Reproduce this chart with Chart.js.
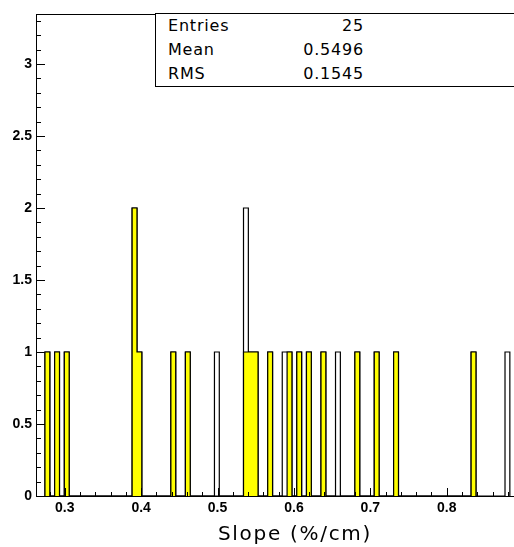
<!DOCTYPE html>
<html>
<head>
<meta charset="utf-8">
<script src="https://cdn.jsdelivr.net/npm/chart.js@4.4.1/dist/chart.umd.min.js"></script>
<style>
  html, body { margin: 0; padding: 0; background: #fff; overflow: hidden; }
  #wrap { position: relative; width: 514px; height: 547px; overflow: hidden; }
  #stats {
    position: absolute; left: 155px; top: 13px; width: 380px; height: 72px;
    border: 1px solid #000; background: #fff; box-sizing: content-box;
    font-family: "DejaVu Sans", sans-serif; font-size: 16px; letter-spacing: 0.8px; color: #000;
  }
  .row { position: absolute; left: 0; height: 24px; line-height: 24px; width: 100%; }
  .lab { position: absolute; left: 12px; }
  .val { position: absolute; right: 172px; text-align: right; }
  #xtitle {
    position: absolute; left: 195px; width: 200px; top: 521px; height: 24px; line-height: 24px;
    text-align: center; font-family: "DejaVu Sans", sans-serif; font-size: 20px; letter-spacing: 1.7px; color: #000;
  }
</style>
</head>
<body>
<div id="wrap">
  <canvas id="c" width="514" height="547"></canvas>
  <div id="stats"></div>
  <div id="xtitle"></div>
</div>
<script>
// ---- data ----
const binWidth = 0.00634;
const whiteCenters = [0.2772,0.2899,0.3026,0.3913,0.3976,0.4420,0.4610,0.4990,0.5371,0.5434,0.5497,0.5687,0.5877,0.5941,0.6068,0.6194,0.6384,0.6575,0.6828,0.7081,0.7335,0.8349,0.8793];
const whiteCounts  = [1,1,1,2,1,1,1,1,2,1,1,1,1,1,1,1,1,1,1,1,1,1,1];
const yellowCenters = [0.2772,0.2899,0.3026,0.3913,0.3976,0.4420,0.4610,0.5371,0.5434,0.5497,0.5687,0.5941,0.6068,0.6194,0.6384,0.6828,0.7081,0.7335,0.8349];
const yellowCounts  = [1,1,1,2,1,1,1,1,1,1,1,1,1,1,1,1,1,1,1];
const statLabels = ["Entries", "Mean", "RMS"];
const statValues = ["25", "0.5496", "0.1545"];
const xTitle = "Slope (%/cm)";
const xRange = [0.2623, 0.8881];
const yRange = [0, 3.347];

// ---- text boxes ----
const statsEl = document.getElementById('stats');
statLabels.forEach((l, i) => {
  const r = document.createElement('div');
  r.className = 'row';
  r.style.top = (i * 24) + 'px';
  r.innerHTML = '<span class="lab"></span><span class="val"></span>';
  r.querySelector('.lab').textContent = l;
  r.querySelector('.val').textContent = statValues[i];
  statsEl.appendChild(r);
});
document.getElementById('xtitle').textContent = xTitle;

// ---- histogram contour from bins ----
const ref = whiteCenters[0];
function edge(i) { return ref + (i - 0.5) * binWidth; }
function contour(centers, counts) {
  const bins = centers.map((c, k) => ({ i: Math.round((c - ref) / binWidth), n: counts[k] }))
                      .sort((a, b) => a.i - b.i);
  const pts = [];
  bins.forEach((b, k) => {
    const prevAdj = k > 0 && bins[k - 1].i === b.i - 1;
    const nextAdj = k < bins.length - 1 && bins[k + 1].i === b.i + 1;
    if (!prevAdj) pts.push({ x: edge(b.i), y: 0 });
    pts.push({ x: edge(b.i), y: b.n }, { x: edge(b.i + 1), y: b.n });
    if (!nextAdj) pts.push({ x: edge(b.i + 1), y: 0 });
  });
  return pts;
}

const framePlugin = {
  id: 'frame',
  afterDatasetsDraw(chart) {
    const { ctx, chartArea: a, scales: { x, y } } = chart;
    ctx.save();
    ctx.strokeStyle = '#000';
    ctx.lineWidth = 1;
    ctx.beginPath();
    ctx.moveTo(a.left, Math.round(a.top) + 0.5);
    ctx.lineTo(a.right, Math.round(a.top) + 0.5);
    for (let k = 0; k <= 33; k++) {
      const v = k / 10;
      const py = Math.round(y.getPixelForValue(v)) + 0.5;
      const len = (k % 5 === 0) ? 9 : 5;
      ctx.moveTo(a.left, py);
      ctx.lineTo(a.left + len, py);
    }
    for (let k = 14; k <= 44; k++) {
      const v = k / 50;
      if (v < xRange[0] || v > xRange[1]) continue;
      const px = Math.round(x.getPixelForValue(v)) + 0.5;
      const len = (k % 5 === 0) ? 8 : 4;
      ctx.moveTo(px, a.bottom);
      ctx.lineTo(px, a.bottom - len);
    }
    ctx.stroke();
    ctx.restore();
  }
};

const tickFont = { family: 'Liberation Sans', size: 14, weight: 'bold' };

new Chart(document.getElementById('c'), {
  type: 'line',
  data: {
    datasets: [
      { label: 'yellow', data: contour(yellowCenters, yellowCounts), borderColor: '#000', borderWidth: 1.2,
        backgroundColor: '#ffff00', fill: 'origin', pointRadius: 0, tension: 0 },
      { label: 'all', data: contour(whiteCenters, whiteCounts), borderColor: '#000', borderWidth: 1.2,
        backgroundColor: '#ffffff', fill: 'origin', pointRadius: 0, tension: 0 }
    ]
  },
  options: {
    responsive: false,
    animation: false,
    events: [],
    layout: { padding: { top: 14, left: 0, right: 0, bottom: 0 } },
    plugins: { legend: { display: false }, tooltip: { enabled: false } },
    scales: {
      x: {
        type: 'linear', min: xRange[0], max: xRange[1],
        grid: { display: false, drawTicks: false },
        border: { display: true, color: '#000', width: 1 },
        ticks: { stepSize: 0.1, includeBounds: false, color: '#000', font: tickFont, padding: 4,
                 maxRotation: 0, autoSkip: false,
                 callback: v => String(Number(v.toFixed(2))) },
        afterFit: s => { s.height = 51; }
      },
      y: {
        min: yRange[0], max: yRange[1],
        grid: { display: false, drawTicks: false },
        border: { display: true, color: '#000', width: 1 },
        ticks: { stepSize: 0.5, includeBounds: false, color: '#000', font: tickFont, padding: 4,
                 callback: v => String(Number(v.toFixed(2))) },
        afterFit: s => { s.width = 36; }
      }
    }
  },
  plugins: [framePlugin]
});
</script>
</body>
</html>
